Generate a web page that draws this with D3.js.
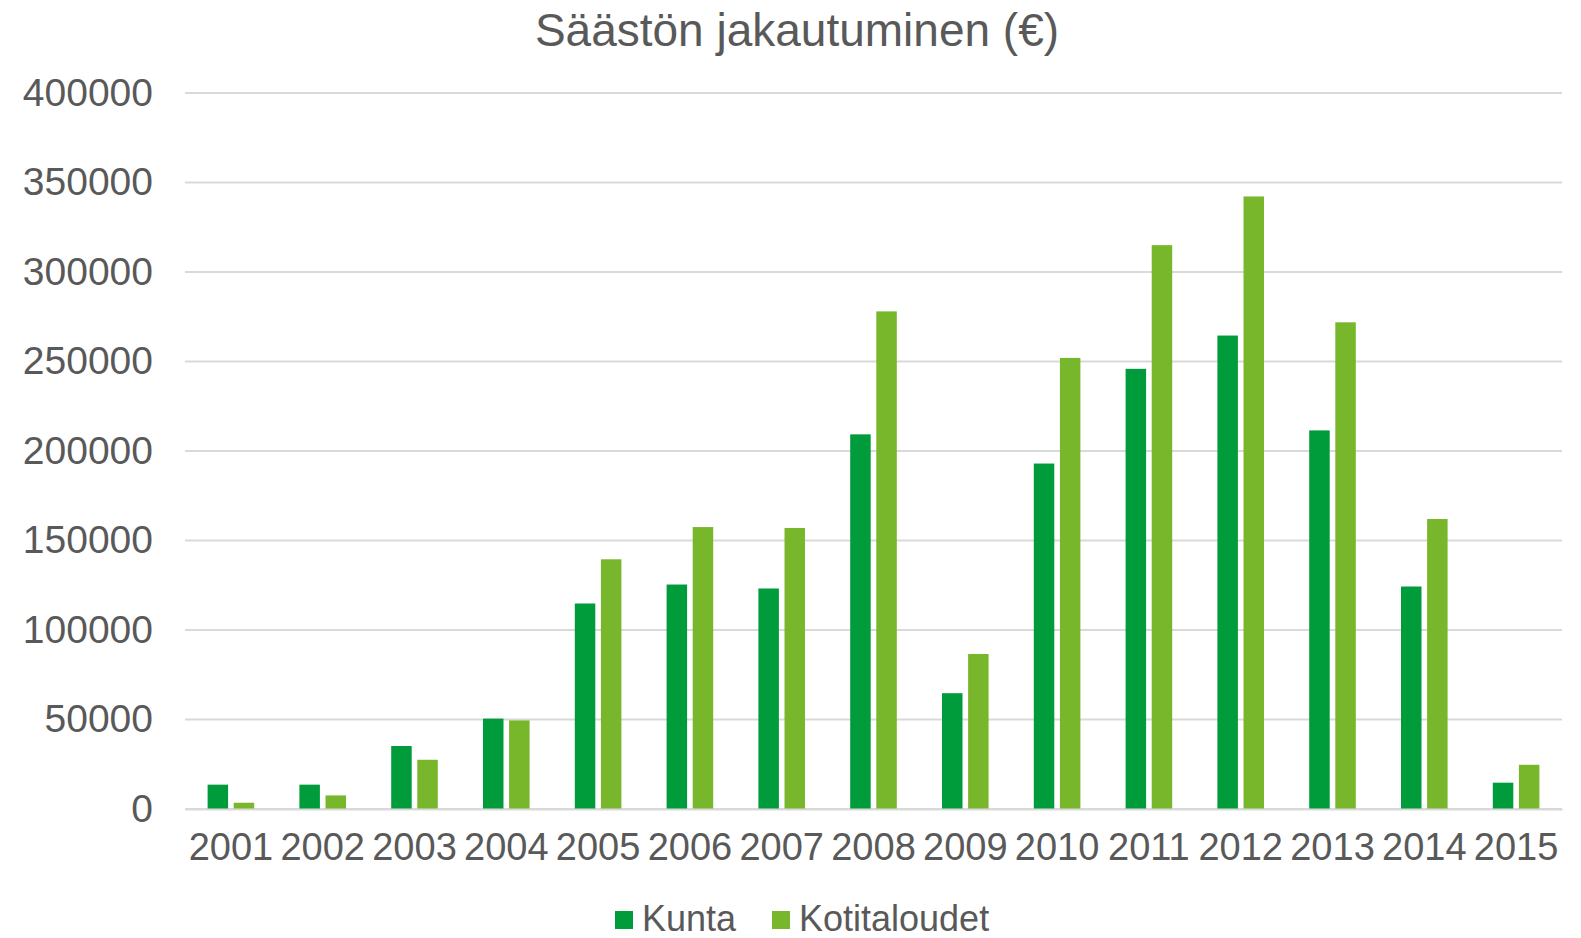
<!DOCTYPE html>
<html>
<head>
<meta charset="utf-8">
<script src="https://cdn.jsdelivr.net/npm/d3@7"></script>
<style>
  html, body { margin: 0; padding: 0; background: #fff; }
  text { font-family: "Liberation Sans", Arial, sans-serif; fill: #595959; }
</style>
</head>
<body>
<div id="chart"></div>
<script>
const years = ["2001","2002","2003","2004","2005","2006","2007","2008","2009","2010","2011","2012","2013","2014","2015"];
const seriesNames = ["Kunta", "Kotitaloudet"];
const kunta = [13600, 13600, 35200, 50500, 114800, 125400, 123200, 209300, 64700, 193000, 245900, 264500, 211500, 124300, 14700];
const kotitaloudet = [3500, 7600, 27500, 49500, 139500, 157500, 157000, 278000, 86600, 252000, 315000, 342200, 271900, 162000, 24700];
const yTicks = [0, 50000, 100000, 150000, 200000, 250000, 300000, 350000, 400000];
const colors = ["#009b3a", "#78b72b"];

const width = 1581, height = 938;
const margin = { top: 93, right: 19, bottom: 129, left: 185 };

const svg = d3.select("#chart")
  .append("svg")
  .attr("width", width)
  .attr("height", height);

const x0 = d3.scaleBand()
  .domain(years)
  .range([margin.left, width - margin.right])
  .padding(0);

const x1 = d3.scaleBand()
  .domain(seriesNames)
  .range([0, x0.bandwidth()])
  .paddingInner(0.215)
  .paddingOuter(0.866);

const y = d3.scaleLinear()
  .domain([0, 400000])
  .range([height - margin.bottom, margin.top]);

// gridlines
svg.append("g")
  .selectAll("line")
  .data(yTicks)
  .join("line")
  .attr("x1", margin.left)
  .attr("x2", width - margin.right)
  .attr("y1", d => y(d))
  .attr("y2", d => y(d))
  .attr("stroke", "#d9d9d9")
  .attr("stroke-width", 2);

// y axis labels
const yAxis = svg.append("g")
  .attr("transform", `translate(${margin.left - 32}, 0)`)
  .call(d3.axisLeft(y).tickValues(yTicks).tickFormat(d3.format("d")).tickSize(0).tickPadding(0));
yAxis.select(".domain").remove();
yAxis.selectAll("text")
  .attr("font-size", 39)
  .attr("fill", "#595959")
  .style("font-family", "'Liberation Sans', Arial, sans-serif");

// bars
const data = years.map((yr, i) => ({ year: yr, values: [kunta[i], kotitaloudet[i]] }));

const groups = svg.append("g")
  .selectAll("g")
  .data(data)
  .join("g")
  .attr("transform", d => `translate(${x0(d.year)},0)`);

groups.selectAll("rect")
  .data(d => d.values.map((v, j) => ({ name: seriesNames[j], value: v, j })))
  .join("rect")
  .attr("x", d => x1(d.name))
  .attr("width", x1.bandwidth())
  .attr("y", d => y(d.value))
  .attr("height", d => y(0) - y(d.value))
  .attr("fill", d => colors[d.j]);

// x axis
const xAxis = svg.append("g")
  .attr("transform", `translate(0, ${y(0)})`)
  .call(d3.axisBottom(x0).tickSize(0).tickPadding(24));
xAxis.select(".domain").attr("stroke", "#d9d9d9").attr("stroke-width", 2);
xAxis.selectAll("text")
  .attr("font-size", 38)
  .attr("fill", "#595959")
  .style("font-family", "'Liberation Sans', Arial, sans-serif");

// title
svg.append("text")
  .attr("x", 797)
  .attr("y", 46)
  .attr("text-anchor", "middle")
  .attr("font-size", 46)
  .text("Säästön jakautuminen (€)");

// legend
const legendItems = [
  { name: "Kunta", x: 615 },
  { name: "Kotitaloudet", x: 772 }
];
const legend = svg.append("g");
legendItems.forEach((it, i) => {
  legend.append("rect")
    .attr("x", it.x)
    .attr("y", 911)
    .attr("width", 18)
    .attr("height", 18)
    .attr("fill", colors[i]);
  legend.append("text")
    .attr("x", it.x + 27)
    .attr("y", 918)
    .attr("dy", "0.35em")
    .attr("font-size", 36)
    .text(it.name);
});
</script>
</body>
</html>
